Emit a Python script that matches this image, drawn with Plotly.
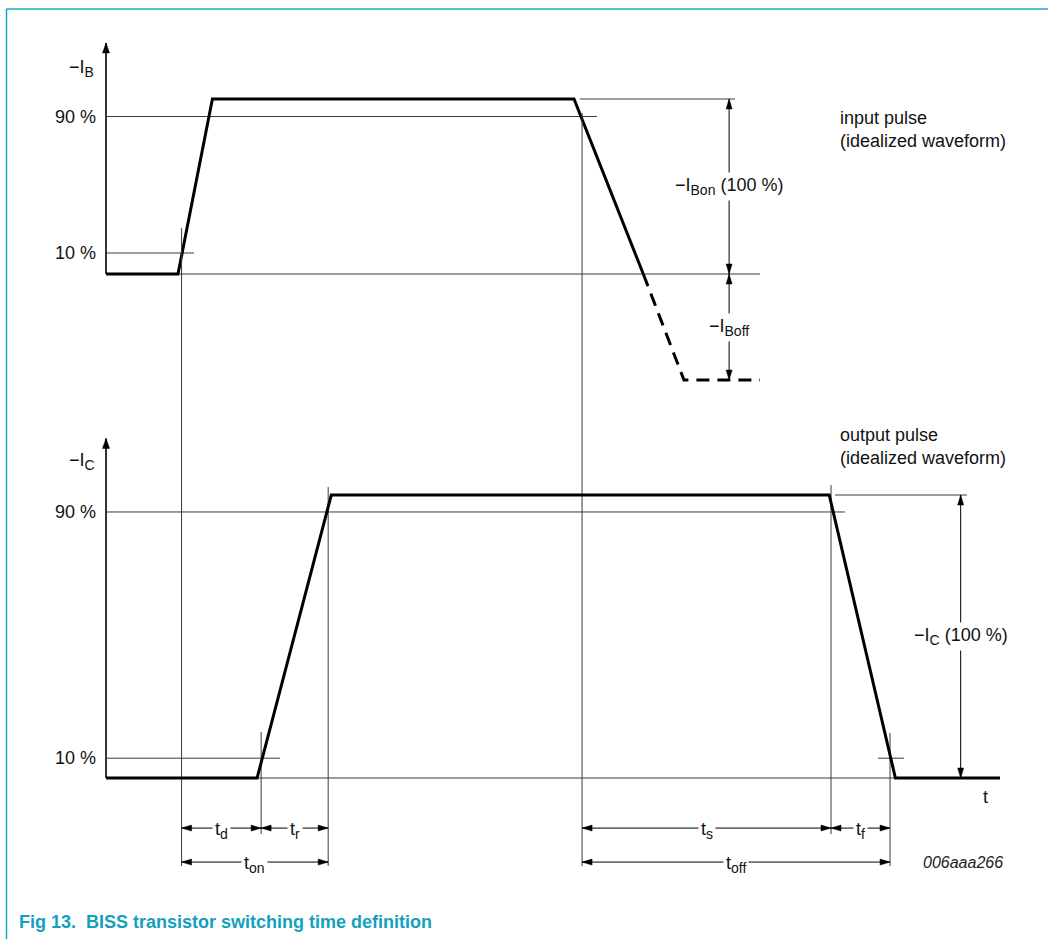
import plotly.graph_objects as go

# ---------------- data (time in arbitrary units, levels in % of on-level) ----------------
ib_t = [0, 8.05, 11.9, 52.35, 60.1]
ib_level = [0, 0, 100, 100, 0]
ib_off_t = [60.1, 64.65, 73.15]
ib_off_level = [0, -60.6, -60.6]

ic_t = [0, 16.9, 25.2, 80.9, 88.3, 100]
ic_level = [0, 0, 100, 100, 0, 0]

ref_tick_text = ["90 %", "10 %"]
ib_ref_levels = [90, 12]     # drawn position of the 90 % / 10 % marks (input)
ic_ref_levels = [94, 7]      # drawn position of the 90 % / 10 % marks (output)

# switching instants (level crossings)
t_ib10_on = 8.45
t_ic10_on = 17.35
t_ic90_on = 24.85
t_ib90_off = 53.25
t_ic90_off = 81.1
t_ic10_off = 87.7

interval_names = ["d", "r", "on", "s", "f", "off"]
interval_start = [t_ib10_on, t_ic10_on, t_ib10_on, t_ib90_off, t_ic90_off, t_ib90_off]
interval_end = [t_ic10_on, t_ic90_on, t_ic90_on, t_ic90_off, t_ic10_off, t_ic10_off]
interval_row = [1, 1, 2, 1, 1, 2]

# ---------------- layout helpers ----------------
ROW_LEVEL = {1: -17.7, 2: -29.7}       # in output-panel units
THIN = dict(color="#3a3a3a", width=1)
THICK = dict(color="black", width=3)


def sub(s):
    return f'<sub><span style="font-size:14px">{s}</span></sub>'


fig = go.Figure()


def seg(x, y, yaxis, line):
    fig.add_trace(go.Scatter(x=x, y=y, yaxis=yaxis, mode="lines", line=line,
                             hoverinfo="skip", showlegend=False))


def head(x, y, yref, direction, L=10, W=3):
    paths = {
        "right": f"M0,0 L{-L},{W} L{-L},{-W} Z",
        "left": f"M0,0 L{L},{W} L{L},{-W} Z",
        "up": f"M0,0 L{-W},{-L} L{W},{-L} Z",
        "down": f"M0,0 L{-W},{L} L{W},{L} Z",
    }
    fig.add_shape(type="path", path=paths[direction], xref="x", yref=yref,
                  xsizemode="pixel", ysizemode="pixel", xanchor=x, yanchor=y,
                  fillcolor="black", line=dict(color="black", width=0.5), layer="above")


# ---- thin reference lines, input panel (y) ----
seg([0, 54.9], [ib_ref_levels[0]] * 2, "y", THIN)
seg([0, 9.85], [ib_ref_levels[1]] * 2, "y", THIN)
seg([0, 73.15], [0, 0], "y", THIN)
seg([53.0, 70.35], [100, 100], "y", THIN)

# ---- thin reference lines, output panel (y2) ----
seg([0, 82.65], [ic_ref_levels[0]] * 2, "y2", THIN)
seg([0, 19.45], [ic_ref_levels[1]] * 2, "y2", THIN)
seg([0, 100], [0, 0], "y2", THIN)
seg([81.55, 96.3], [100, 100], "y2", THIN)
seg([86.35, 89.25], [ic_ref_levels[1]] * 2, "y2", THIN)

# ---- vertical crossing markers (output-panel units) ----
for t, top, bot in [(t_ib10_on, 194.3, -31.1), (t_ib90_off, 235.0, -31.1),
                    (t_ic10_on, 16.3, -19.8), (t_ic90_on, 102.8, -31.1),
                    (t_ic90_off, 103.5, -19.8), (t_ic10_off, 15.9, -31.1)]:
    seg([t, t], [top, bot], "y2", THIN)

# ---- y axes with arrows ----
AX = dict(color="#333", width=2)
seg([0, 0], [0, 132], "y", AX)
head(0, 132, "y", "up", L=10, W=3.5)
seg([0, 0], [0, 120], "y2", AX)
head(0, 120, "y2", "up", L=10, W=3.5)

# ---- waveforms ----
seg(ib_t, ib_level, "y", THICK)
seg(ib_off_t, ib_off_level, "y", dict(color="black", width=3, dash="13px,8px"))
seg(ic_t, ic_level, "y2", THICK)

# ---- amplitude dimension arrows ----
ARW = dict(color="black", width=1)
seg([69.7, 69.7], [0, 100], "y", ARW)
head(69.7, 100, "y", "up"); head(69.7, 0, "y", "down")
seg([69.7, 69.7], [0, ib_off_level[-1]], "y", ARW)
head(69.7, 0, "y", "up"); head(69.7, ib_off_level[-1], "y", "down")
seg([95.6, 95.6], [0, 100], "y2", ARW)
head(95.6, 100, "y2", "up"); head(95.6, 0, "y2", "down")

# ---- time dimension arrows ----
for a, b, r in zip(interval_start, interval_end, interval_row):
    yv = ROW_LEVEL[r]
    seg([a, b], [yv, yv], "y2", ARW)
    head(a, yv, "y2", "left"); head(b, yv, "y2", "right")

FONT = dict(family="Liberation Sans, Arial, sans-serif", size=18, color="#111")
ann = []


def text(x, y, yref, s, xanchor="center", xshift=0, yshift=0, bg=None, font=FONT, align="center"):
    d = dict(x=x, y=y, xref="x", yref=yref, text=s, showarrow=False, xanchor=xanchor,
             yanchor="middle", xshift=xshift, yshift=yshift, font=font, align=align)
    if bg:
        d.update(bgcolor=bg, borderpad=2)
    ann.append(d)


for nm, a, b, r in zip(interval_names, interval_start, interval_end, interval_row):
    text((a + b) / 2, ROW_LEVEL[r], "y2", "t" + sub(nm), bg="white", yshift=-2)

text(69.7, 50, "y", "\u2212I" + sub("Bon") + " (100 %)", bg="white")
text(69.7, ib_off_level[-1] / 2, "y", "\u2212I" + sub("Boff"), bg="white")
text(95.6, 50, "y2", "\u2212I" + sub("C") + " (100 %)", bg="white")

for s, lv in zip(ref_tick_text, ib_ref_levels):
    text(0, lv, "y", s, xanchor="right", xshift=-8)
for s, lv in zip(ref_tick_text, ic_ref_levels):
    text(0, lv, "y2", s, xanchor="right", xshift=-8)

text(0, 117.7, "y", "\u2212I" + sub("B"), xanchor="right", xshift=-10)
text(0, 111.7, "y2", "\u2212I" + sub("C"), xanchor="right", xshift=-9)

text(81.9, 82.6, "y", "input pulse<br>(idealized waveform)", xanchor="left", align="left")
text(81.9, 117.0, "y2", "output pulse<br>(idealized waveform)", xanchor="left", align="left")
text(98.4, -6.7, "y2", "t")
text(95.9, -29.7, "y2", "<i>006aaa266</i>",
     font=dict(family="Liberation Sans, Arial, sans-serif", size=16, color="#222"))

# caption
ann.append(dict(x=17 / 1048, y=1 - 922 / 939, xref="paper", yref="paper", showarrow=False,
                xanchor="left", yanchor="middle",
                text="<b>Fig 13.\u00a0 BISS transistor switching time definition</b>",
                font=dict(family="Liberation Sans Narrow, Arial Narrow, Liberation Sans, sans-serif",
                          size=18, color="#159FBE")))

# frame (top and left rules)
BORDER = dict(color="#17A8C6", width=1.5)
shapes_frame = [
    dict(type="line", xref="paper", yref="paper", x0=6.5 / 1048, x1=1, y0=1 - 9 / 939, y1=1 - 9 / 939,
         line=BORDER, layer="above"),
    dict(type="line", xref="paper", yref="paper", x0=6.5 / 1048, x1=6.5 / 1048, y0=1 - 9 / 939, y1=0,
         line=BORDER, layer="above"),
]
for s in shapes_frame:
    fig.add_shape(**s)

fig.update_layout(
    width=1048, height=939, autosize=False,
    margin=dict(l=0, r=0, t=0, b=0, pad=0),
    paper_bgcolor="white", plot_bgcolor="white",
    annotations=ann,
    xaxis=dict(range=[-11.86, 105.37], visible=False, fixedrange=True),
    yaxis=dict(range=[-380.0, 156.57], visible=False, domain=[0, 1], fixedrange=True),
    yaxis2=dict(range=[-56.89, 274.91], visible=False, domain=[0, 1], overlaying="y",
                fixedrange=True),
    showlegend=False,
)

fig.write_html("out.html", config={"displayModeBar": False},
               post_script="document.body.style.margin='0';document.body.style.overflow='hidden';")
